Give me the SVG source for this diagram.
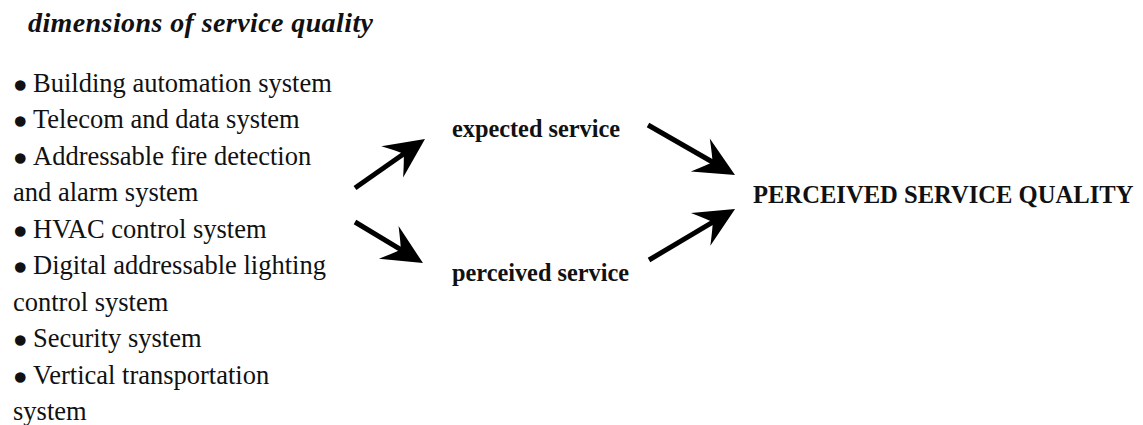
<svg xmlns="http://www.w3.org/2000/svg" width="1143" height="425" viewBox="0 0 1143 425">
  <defs>
    <style>
      .title { font-family: "Liberation Serif", "Times New Roman", serif; font-size: 28px; font-weight: bold; font-style: italic; fill: #111; }
      .item { font-family: "Liberation Serif", "Times New Roman", serif; font-size: 26.5px; fill: #111; }
      .bul { font-size: 30px; stroke: #111; stroke-width: 3.5; stroke-linejoin: round; }
      .lbl { font-family: "Liberation Serif", "Times New Roman", serif; font-size: 24.3px; font-weight: bold; fill: #111; }
      .big { font-size: 24.6px; }
      .shaft { stroke: #000; stroke-width: 5; fill: none; }
    </style>
    <marker id="head" markerUnits="userSpaceOnUse" viewBox="-22 -22 46 44" refX="0" refY="0" markerWidth="46" markerHeight="44" orient="auto" overflow="visible">
      <path d="M21,0 L-19,-19 Q-8,-5 -5,0 Q-8,5 -19,19 Z" fill="#000"/>
    </marker>
  </defs>
  <rect width="1143" height="425" fill="#fff"/>

  <g id="title">
    <text class="title" x="28" y="31.5" textLength="345" lengthAdjust="spacing">dimensions of service quality</text>
  </g>

  <!-- bullet list: a heavier dot glyph dropped onto the x-height, then the item text -->
  <g id="systems">
    <text class="item" x="15" y="91.5"><tspan class="bul" dy="4">•</tspan><tspan x="33" dy="-4">Building automation system</tspan></text>
    <text class="item" x="15" y="128"><tspan class="bul" dy="4">•</tspan><tspan x="33" dy="-4">Telecom and data system</tspan></text>
    <text class="item" x="15" y="164.5"><tspan class="bul" dy="4">•</tspan><tspan x="33" dy="-4">Addressable fire detection</tspan></text>
    <text class="item" x="13" y="201">and alarm system</text>
    <text class="item" x="15" y="237.5"><tspan class="bul" dy="4">•</tspan><tspan x="33" dy="-4">HVAC control system</tspan></text>
    <text class="item" x="15" y="274"><tspan class="bul" dy="4">•</tspan><tspan x="33" dy="-4">Digital addressable lighting</tspan></text>
    <text class="item" x="13" y="310.5">control system</text>
    <text class="item" x="15" y="347"><tspan class="bul" dy="4">•</tspan><tspan x="33" dy="-4">Security system</tspan></text>
    <text class="item" x="15" y="383.5"><tspan class="bul" dy="4">•</tspan><tspan x="33" dy="-4">Vertical transportation</tspan></text>
    <text class="item" x="13" y="420">system</text>
  </g>

  <g id="expected">
    <text class="lbl" x="452" y="137">expected service</text>
  </g>
  <g id="perceived">
    <text class="lbl" x="452" y="281">perceived service</text>
  </g>
  <g id="quality">
    <text class="lbl big" x="753" y="203">PERCEIVED SERVICE QUALITY</text>
  </g>

  <g id="connectors">
    <line class="shaft" x1="355" y1="188" x2="407.8" y2="151" marker-end="url(#head)"/>
    <line class="shaft" x1="355" y1="222" x2="405" y2="252.2" marker-end="url(#head)"/>
    <line class="shaft" x1="648" y1="125" x2="716.8" y2="164.5" marker-end="url(#head)"/>
    <line class="shaft" x1="649" y1="260" x2="717" y2="219.7" marker-end="url(#head)"/>
  </g>
</svg>
